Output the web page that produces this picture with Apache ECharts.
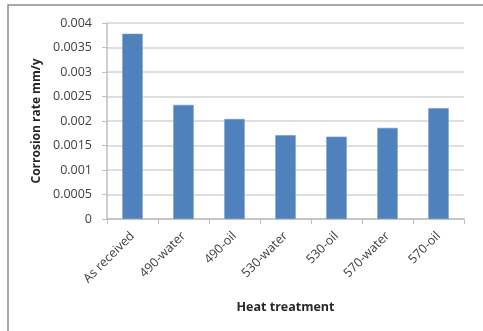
<!DOCTYPE html>
<html><head><meta charset="utf-8">
<script src="https://cdn.jsdelivr.net/npm/echarts@6/dist/echarts.min.js"></script>
<style>html,body{margin:0;padding:0;background:#fff}#c{width:483px;height:331px}</style>
</head><body><div id="c"></div>
<script>
const categories = ['As received','490-water','490-oil','530-water','530-oil','570-water','570-oil'];
const corrosionRate = [0.00378, 0.00233, 0.00204, 0.00171, 0.00168, 0.00186, 0.00226];
const yMin = 0, yMax = 0.004, yStep = 0.0005;
const xTitle = 'Heat treatment';
const yTitle = 'Corrosion rate mm/y';

const chart = echarts.init(document.getElementById('c'), null, {renderer:'canvas'});
const font = '"Open Sans", Lato, sans-serif';
chart.setOption({
  animation:false,
  graphic:[{type:'rect', shape:{x:8,y:5,width:500,height:400}, style:{fill:'none', stroke:'#8c8c8c', lineWidth:1.5}, z:-1}],
  grid:{left:107,right:19,top:23,bottom:112},
  xAxis:{
    type:'category', data:categories,
    name:xTitle, nameLocation:'middle', nameGap:82,
    nameTextStyle:{fontFamily:font,fontWeight:'bold',fontSize:12.5,color:'#262626'},
    axisLine:{lineStyle:{color:'#bfbfbf',width:1.5}},
    axisTick:{show:true,length:5,lineStyle:{color:'#bfbfbf'}},
    axisLabel:{rotate:45,fontFamily:font,fontSize:12.5,color:'#404040',margin:15,interval:0}
  },
  yAxis:{
    type:'value', min:yMin, max:yMax, interval:yStep,
    name:yTitle, nameLocation:'middle', nameGap:62,
    nameTextStyle:{fontFamily:font,fontWeight:'bold',fontSize:12,color:'#262626'},
    axisLine:{show:true,lineStyle:{color:'#bfbfbf',width:1.5}},
    axisTick:{show:true,length:5,lineStyle:{color:'#bfbfbf'}},
    splitLine:{lineStyle:{color:'#d4d4d4',width:1.5}},
    axisLabel:{fontFamily:font,fontSize:12.5,color:'#404040',margin:15,
      formatter:v=>String(parseFloat(v.toFixed(4)))}
  },
  series:[{type:'bar', data:corrosionRate, barWidth:'40%',
    itemStyle:{color:'#4f81bd', borderColor:'#6f97c9', borderWidth:0.6}}]
});
</script></body></html>
